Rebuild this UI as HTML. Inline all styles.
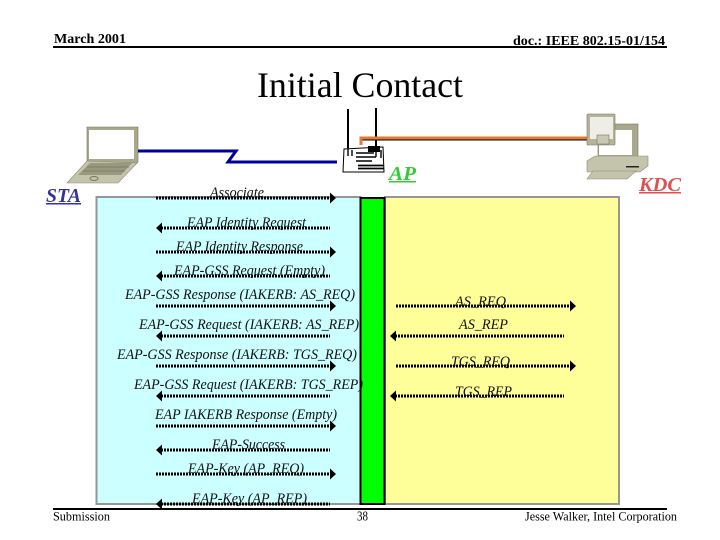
<!DOCTYPE html>
<html><head><meta charset="utf-8"><style>
html,body{margin:0;padding:0;background:#fff}
svg{display:block}
text{font-family:"Liberation Serif",serif;fill:#000}
.l{font-style:italic;font-size:14.5px;fill:#111}
.d{stroke:#000;stroke-width:3;stroke-dasharray:2 1;fill:none}
</style></head><body>
<svg xmlns="http://www.w3.org/2000/svg" width="720" height="540" viewBox="0 0 720 540">
<rect width="720" height="540" fill="#fff"/>
<!-- header -->
<text x="54" y="43" font-size="14" font-weight="bold" textLength="72" lengthAdjust="spacingAndGlyphs">March 2001</text>
<text x="513" y="45" font-size="14" font-weight="bold" textLength="152" lengthAdjust="spacingAndGlyphs">doc.: IEEE 802.15-01/154</text>
<rect x="53" y="46" width="614" height="2" fill="#000"/>
<text x="257" y="97" font-size="36" textLength="206" lengthAdjust="spacingAndGlyphs">Initial Contact</text>
<!-- panels -->
<rect x="96.5" y="197" width="264" height="307" fill="#ccffff" stroke="#969696" stroke-width="2"/>
<rect x="385" y="197" width="234" height="307" fill="#ffff99" stroke="#969696" stroke-width="2"/>
<rect x="360.5" y="198" width="24" height="306" fill="#00ff00" stroke="#000" stroke-width="2"/>
<rect x="53" y="508" width="614" height="2" fill="#000"/>
<!-- laptop -->
<polygon points="87,127 138,127 138,162 134,166 87,161" fill="#a8a88c" stroke="#77775f" stroke-width=".6"/>
<rect x="89" y="130" width="45" height="29" fill="#fff"/>
<polygon points="87,161 137,163 118,183 67,183" fill="#c4c4ac" stroke="#8c8c74" stroke-width=".6"/>
<polygon points="90,163 132,163 121,175 78,175" fill="#999980"/>
<path d="M87 167H129M83 171H125" stroke="#77775f" stroke-width=".7"/>
<ellipse cx="94" cy="178.500" rx="4" ry="2" fill="none" stroke="#77775f"/>
<!-- blue link -->
<polyline points="138,151 236,151 228,162 337,162" fill="none" stroke="#000099" stroke-width="3"/>
<!-- AP -->
<line x1="348" y1="109" x2="348" y2="148" stroke="#000" stroke-width="2"/>
<line x1="376" y1="108" x2="376" y2="148" stroke="#000" stroke-width="2"/>
<polygon points="344,149 383,147 384,172 343,172" fill="#fff" stroke="#000" stroke-width="1"/>
<path d="M356 153h18M356 157h20M356 161h16M348 148v8M352 150v6M376 150v7M381 150v8" stroke="#000" stroke-width="1.4" fill="none"/>
<path d="M358 165.500h26M358 168.500h26" stroke="#000" stroke-width="1.800" fill="none"/>
<rect x="368" y="146" width="12" height="6" fill="#000"/>
<!-- orange link -->
<line x1="361" y1="140" x2="592" y2="140" stroke="#000" stroke-width="1"/>
<polyline points="361,145 361,138 592,138" fill="none" stroke="#e07b30" stroke-width="3"/>
<!-- computer -->
<rect x="598" y="124" width="40" height="34" fill="#a8a88c" stroke="#77775f" stroke-width=".6"/>
<rect x="599" y="130" width="33" height="25" fill="#fff"/>
<rect x="587" y="114" width="28" height="31" rx="1" fill="#b4b49c" stroke="#77775f" stroke-width=".6"/>
<rect x="590" y="117" width="23" height="22" fill="#eeeee6"/>
<rect x="597" y="135" width="12" height="9" fill="#c8c8b4" stroke="#77775f" stroke-width=".6"/>
<polygon points="587,161 595,156 648,156 648,166 640,172 587,172" fill="#c4c4ac" stroke="#8c8c74" stroke-width=".6"/>
<rect x="626" y="166" width="13" height="1.5" fill="#222"/>
<polygon points="593,171 636,171 627,179 587,179" fill="#c4c4ac" stroke="#8c8c74" stroke-width=".6"/>
<!-- device labels -->
<text x="46" y="202" font-size="20" font-weight="bold" font-style="italic" style="fill:#333399" textLength="35" lengthAdjust="spacingAndGlyphs">STA</text>
<rect x="46" y="203" width="35" height="1.5" fill="#333399"/>
<text x="389" y="180" font-size="20" font-weight="bold" font-style="italic" style="fill:#33cc33" textLength="27" lengthAdjust="spacingAndGlyphs">AP</text>
<rect x="389" y="181" width="27" height="1.5" fill="#33cc33"/>
<text x="639" y="191" font-size="20" font-weight="bold" font-style="italic" style="fill:#e05050" textLength="42" lengthAdjust="spacingAndGlyphs">KDC</text>
<rect x="639" y="192" width="42" height="1.5" fill="#e05050"/>
<!-- arrows -->
<g class="d">
<line x1="156" y1="198" x2="331" y2="198"/>
<line x1="161" y1="228" x2="330" y2="228"/>
<line x1="156" y1="252" x2="331" y2="252"/>
<line x1="161" y1="276" x2="330" y2="276"/>
<line x1="156" y1="306" x2="331" y2="306"/>
<line x1="161" y1="336" x2="330" y2="336"/>
<line x1="156" y1="366" x2="331" y2="366"/>
<line x1="161" y1="396" x2="330" y2="396"/>
<line x1="156" y1="426" x2="331" y2="426"/>
<line x1="161" y1="450" x2="330" y2="450"/>
<line x1="156" y1="474" x2="331" y2="474"/>
<line x1="161" y1="504" x2="330" y2="504"/>
<line x1="396" y1="306" x2="571" y2="306"/>
<line x1="395" y1="336" x2="564" y2="336"/>
<line x1="396" y1="366" x2="571" y2="366"/>
<line x1="395" y1="396" x2="564" y2="396"/>
</g>
<g fill="#000">
<polygon points="336,198 330,192.500 330,203.500"/>
<polygon points="156,228 162,222.500 162,233.500"/>
<polygon points="336,252 330,246.500 330,257.500"/>
<polygon points="156,276 162,270.500 162,281.500"/>
<polygon points="336,306 330,300.500 330,311.500"/>
<polygon points="156,336 162,330.500 162,341.500"/>
<polygon points="336,366 330,360.500 330,371.500"/>
<polygon points="156,396 162,390.500 162,401.500"/>
<polygon points="336,426 330,420.500 330,431.500"/>
<polygon points="156,450 162,444.500 162,455.500"/>
<polygon points="336,474 330,468.500 330,479.500"/>
<polygon points="156,504 162,498.500 162,509.500"/>
<polygon points="576,306 570,300.500 570,311.500"/>
<polygon points="390,336 396,330.500 396,341.500"/>
<polygon points="576,366 570,360.500 570,371.500"/>
<polygon points="390,396 396,390.500 396,401.500"/>
</g>
<!-- message labels -->
<text class="l" x="210" y="197" textLength="54" lengthAdjust="spacingAndGlyphs">Associate</text>
<text class="l" x="187" y="227" textLength="119" lengthAdjust="spacingAndGlyphs">EAP Identity Request</text>
<text class="l" x="176" y="251" textLength="127" lengthAdjust="spacingAndGlyphs">EAP Identity Response</text>
<text class="l" x="174" y="275" textLength="151" lengthAdjust="spacingAndGlyphs">EAP-GSS Request (Empty)</text>
<text class="l" x="125" y="299" textLength="230" lengthAdjust="spacingAndGlyphs">EAP-GSS Response (IAKERB: AS_REQ)</text>
<text class="l" x="139" y="329" textLength="220" lengthAdjust="spacingAndGlyphs">EAP-GSS Request (IAKERB: AS_REP)</text>
<text class="l" x="117" y="359" textLength="240" lengthAdjust="spacingAndGlyphs">EAP-GSS Response (IAKERB: TGS_REQ)</text>
<text class="l" x="134" y="389" textLength="229" lengthAdjust="spacingAndGlyphs">EAP-GSS Request (IAKERB: TGS_REP)</text>
<text class="l" x="155" y="419" textLength="182" lengthAdjust="spacingAndGlyphs">EAP IAKERB Response (Empty)</text>
<text class="l" x="212" y="449" textLength="73" lengthAdjust="spacingAndGlyphs">EAP-Success</text>
<text class="l" x="188" y="473" textLength="116" lengthAdjust="spacingAndGlyphs">EAP-Key (AP_REQ)</text>
<text class="l" x="192" y="503" textLength="115" lengthAdjust="spacingAndGlyphs">EAP-Key (AP_REP)</text>
<text class="l" x="455" y="306" textLength="51" lengthAdjust="spacingAndGlyphs">AS_REQ</text>
<text class="l" x="459" y="329" textLength="49" lengthAdjust="spacingAndGlyphs">AS_REP</text>
<text class="l" x="451" y="366" textLength="59" lengthAdjust="spacingAndGlyphs">TGS_REQ</text>
<text class="l" x="455" y="396" textLength="57" lengthAdjust="spacingAndGlyphs">TGS_REP</text>
<!-- footer -->
<text x="53" y="520.500" font-size="13" textLength="57" lengthAdjust="spacingAndGlyphs">Submission</text>
<text x="357" y="520.500" font-size="13.500" textLength="11" lengthAdjust="spacingAndGlyphs">38</text>
<text x="525" y="520.500" font-size="13" textLength="152" lengthAdjust="spacingAndGlyphs">Jesse Walker, Intel Corporation</text>
</svg>
</body></html>
